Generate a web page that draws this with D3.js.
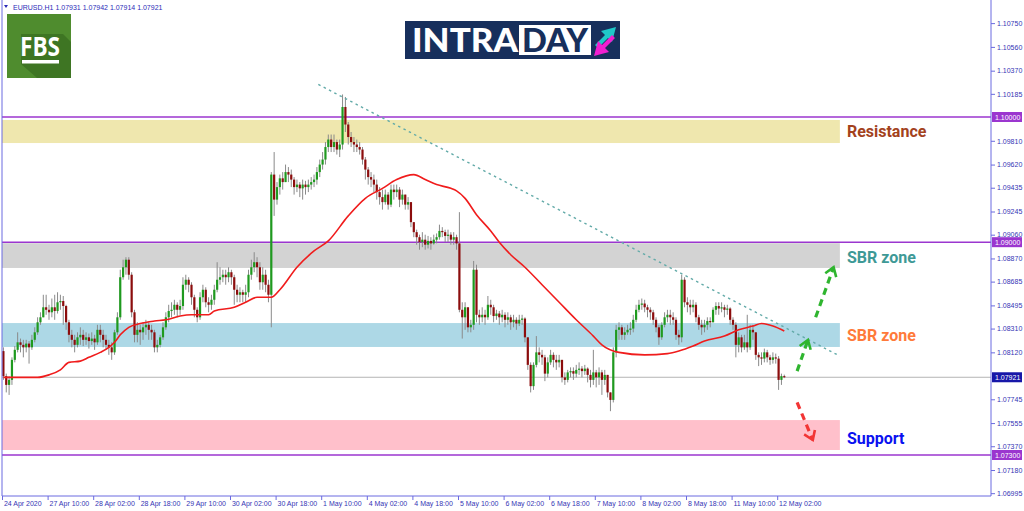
<!DOCTYPE html>
<html>
<head>
<meta charset="utf-8">
<script src="https://cdn.jsdelivr.net/npm/d3@7"></script>
<style>
  body { margin: 0; background: #fff; }
  svg { display: block; }
  .axis text { font-family: "Liberation Sans", Tahoma, sans-serif; font-size: 7px; fill: #3535b5; }
  .axis line { stroke: #6a6ae0; }
  .axis path { display: none; }
</style>
</head>
<body>
<div id="chart"></div>
<script>
// EURUSD H1, 24 Apr 2020 18:00 .. 12 May 2020 04:00 (bar index 0..274)
var firstOpen = 1.0813;
var closes = [
  1.0793,1.0786,1.0790,1.0806,1.0814,1.0820,1.0818,1.0816,1.0819,1.0816,
  1.0822,1.0828,1.0836,1.0840,1.0848,1.0846,1.0844,1.0848,1.0845,1.0852,
  1.0853,1.0849,1.0836,1.0826,1.0822,1.0818,1.0824,1.0826,1.0822,1.0824,
  1.0821,1.0823,1.0820,1.0830,1.0826,1.0822,1.0818,1.0816,1.0812,1.0828,
  1.0840,1.0872,1.0880,1.0886,1.0874,1.0844,1.0826,1.0830,1.0828,1.0832,
  1.0834,1.0830,1.0828,1.0816,1.0818,1.0824,1.0832,1.0840,1.0845,1.0846,
  1.0850,1.0846,1.0849,1.0866,1.0870,1.0866,1.0856,1.0846,1.0840,1.0856,
  1.0862,1.0852,1.0850,1.0854,1.0862,1.0870,1.0872,1.0874,1.0872,1.0876,
  1.0872,1.0862,1.0858,1.0860,1.0858,1.0860,1.0874,1.0880,1.0884,1.0880,
  1.0868,1.0874,1.0866,1.0858,1.0954,1.0934,1.0944,1.0951,1.0948,1.0956,
  1.0954,1.0950,1.0944,1.0946,1.0943,1.0946,1.0944,1.0946,1.0948,1.0950,
  1.0956,1.0962,1.0966,1.0976,1.0982,1.0976,1.0980,1.0974,1.0978,1.1008,
  1.0994,1.0984,1.0980,1.0978,1.0976,1.0974,1.0966,1.0958,1.0952,1.0950,
  1.0946,1.0940,1.0936,1.0932,1.0938,1.0930,1.0942,1.0940,1.0942,1.0934,
  1.0938,1.0930,1.0932,1.0916,1.0908,1.0904,1.0900,1.0902,1.0898,1.0901,
  1.0899,1.0902,1.0904,1.0909,1.0908,1.0905,1.0906,1.0902,1.0904,1.0899,
  1.0846,1.0840,1.0848,1.0832,1.0834,1.0878,1.0842,1.0840,1.0842,1.0840,
  1.0850,1.0848,1.0841,1.0843,1.0840,1.0842,1.0838,1.0840,1.0836,1.0838,
  1.0835,1.0838,1.0839,1.0824,1.0802,1.0785,1.0802,1.0812,1.0810,1.0808,
  1.0795,1.0804,1.0810,1.0806,1.0804,1.0806,1.0792,1.0790,1.0796,1.0797,
  1.0795,1.0798,1.0799,1.0797,1.0799,1.0794,1.0790,1.0796,1.0792,1.0796,
  1.0790,1.0794,1.0780,1.0774,1.0812,1.0830,1.0832,1.0826,1.0828,1.0830,
  1.0831,1.0838,1.0846,1.0850,1.0851,1.0848,1.0846,1.0844,1.0838,1.0832,
  1.0824,1.0834,1.0840,1.0842,1.0840,1.0838,1.0826,1.0824,1.0870,1.0852,
  1.0850,1.0848,1.0850,1.0840,1.0834,1.0832,1.0834,1.0837,1.0836,1.0846,
  1.0849,1.0847,1.0848,1.0846,1.0847,1.0838,1.0834,1.0818,1.0824,1.0816,
  1.0820,1.0816,1.0830,1.0828,1.0810,1.0808,1.0807,1.0812,1.0808,1.0806,
  1.0808,1.0807,1.0790,1.0793,1.07921
];
var highs = [
  1.0816,1.0795,1.0793,1.0808,1.0817,1.0828,1.0823,1.0822,1.0822,1.0821,
  1.0826,1.0832,1.0840,1.0844,1.0858,1.0858,1.0850,1.0855,1.0858,1.0860,
  1.0858,1.0857,1.0850,1.0838,1.0830,1.0826,1.0828,1.0832,1.0830,1.0828,
  1.0827,1.0828,1.0826,1.0834,1.0834,1.0830,1.0826,1.0822,1.0820,1.0830,
  1.0844,1.0878,1.0886,1.0888,1.0888,1.0876,1.0846,1.0836,1.0834,1.0836,
  1.0838,1.0836,1.0834,1.0830,1.0822,1.0826,1.0836,1.0844,1.0850,1.0852,
  1.0854,1.0852,1.0854,1.0872,1.0874,1.0872,1.0868,1.0858,1.0848,1.0860,
  1.0866,1.0864,1.0856,1.0858,1.0866,1.0884,1.0880,1.0878,1.0878,1.0880,
  1.0878,1.0874,1.0866,1.0864,1.0862,1.0866,1.0878,1.0886,1.0892,1.0888,
  1.0884,1.0880,1.0878,1.0870,1.0956,1.0972,1.0948,1.0954,1.0956,1.0962,
  1.0960,1.0958,1.0952,1.0950,1.0948,1.0950,1.0949,1.0950,1.0952,1.0954,
  1.0960,1.0966,1.0972,1.0980,1.0986,1.0986,1.0986,1.0982,1.0982,1.1018,
  1.1016,1.0996,1.0988,1.0984,1.0982,1.0980,1.0976,1.0968,1.0960,1.0956,
  1.0954,1.0950,1.0944,1.0942,1.0942,1.0940,1.0946,1.0946,1.0946,1.0944,
  1.0942,1.0938,1.0936,1.0932,1.0916,1.0910,1.0906,1.0908,1.0906,1.0905,
  1.0904,1.0906,1.0907,1.0914,1.0912,1.0910,1.0910,1.0908,1.0908,1.0906,
  1.0924,1.0852,1.0852,1.0846,1.0838,1.0885,1.0882,1.0846,1.0848,1.0846,
  1.0857,1.0854,1.0850,1.0846,1.0845,1.0846,1.0844,1.0844,1.0842,1.0842,
  1.0840,1.0842,1.0842,1.0840,1.0824,1.0804,1.0804,1.0825,1.0816,1.0814,
  1.0810,1.0808,1.0814,1.0812,1.0810,1.0810,1.0806,1.0796,1.0798,1.0800,
  1.0800,1.0802,1.0804,1.0801,1.0802,1.0800,1.0798,1.0814,1.0798,1.0800,
  1.0798,1.0798,1.0794,1.0780,1.0816,1.0834,1.0836,1.0834,1.0832,1.0834,
  1.0836,1.0842,1.0850,1.0854,1.0855,1.0854,1.0850,1.0848,1.0846,1.0840,
  1.0834,1.0836,1.0844,1.0846,1.0846,1.0844,1.0840,1.0830,1.0874,1.0872,
  1.0856,1.0854,1.0854,1.0852,1.0842,1.0838,1.0838,1.0840,1.0840,1.0848,
  1.0852,1.0852,1.0852,1.0850,1.0850,1.0848,1.0840,1.0836,1.0828,1.0826,
  1.0826,1.0842,1.0834,1.0834,1.0828,1.0812,1.0812,1.0815,1.0814,1.0810,
  1.0812,1.0811,1.0809,1.0795,1.07942
];
var lows = [
  1.0790,1.0780,1.0778,1.0786,1.0804,1.0812,1.0812,1.0808,1.0812,1.0803,
  1.0814,1.0820,1.0826,1.0834,1.0840,1.0842,1.0838,1.0840,1.0838,1.0843,
  1.0846,1.0834,1.0830,1.0820,1.0816,1.0812,1.0816,1.0818,1.0817,1.0818,
  1.0815,1.0818,1.0814,1.0818,1.0820,1.0816,1.0814,1.0810,1.0806,1.0810,
  1.0826,1.0838,1.0870,1.0874,1.0870,1.0840,1.0820,1.0820,1.0818,1.0822,
  1.0826,1.0822,1.0822,1.0812,1.0812,1.0816,1.0822,1.0830,1.0836,1.0840,
  1.0842,1.0840,1.0842,1.0846,1.0862,1.0860,1.0850,1.0840,1.0836,1.0838,
  1.0852,1.0848,1.0844,1.0846,1.0850,1.0860,1.0866,1.0868,1.0866,1.0868,
  1.0866,1.0850,1.0852,1.0852,1.0852,1.0852,1.0856,1.0870,1.0876,1.0872,
  1.0862,1.0862,1.0860,1.0852,1.0832,1.0921,1.0930,1.0938,1.0942,1.0948,
  1.0948,1.0944,1.0938,1.0940,1.0936,1.0934,1.0938,1.0940,1.0942,1.0944,
  1.0946,1.0952,1.0958,1.0962,1.0972,1.0972,1.0972,1.0970,1.0968,1.0974,
  1.0988,1.0978,1.0976,1.0972,1.0972,1.0970,1.0962,1.0950,1.0946,1.0944,
  1.0940,1.0934,1.0930,1.0926,1.0930,1.0926,1.0928,1.0934,1.0936,1.0928,
  1.0930,1.0926,1.0926,1.0912,1.0904,1.0898,1.0894,1.0896,1.0894,1.0895,
  1.0894,1.0898,1.0899,1.0902,1.0904,1.0900,1.0900,1.0898,1.0898,1.0894,
  1.0844,1.0823,1.0830,1.0828,1.0828,1.0830,1.0836,1.0834,1.0836,1.0834,
  1.0838,1.0842,1.0836,1.0838,1.0834,1.0836,1.0832,1.0834,1.0830,1.0832,
  1.0830,1.0833,1.0834,1.0820,1.0798,1.0780,1.0782,1.0800,1.0804,1.0802,
  1.0789,1.0792,1.0802,1.0800,1.0798,1.0800,1.0788,1.0786,1.0788,1.0792,
  1.0790,1.0792,1.0794,1.0792,1.0794,1.0788,1.0784,1.0786,1.0784,1.0786,
  1.0778,1.0786,1.0776,1.0765,1.0772,1.0808,1.0822,1.0822,1.0822,1.0826,
  1.0826,1.0828,1.0836,1.0844,1.0846,1.0844,1.0840,1.0838,1.0834,1.0828,
  1.0818,1.0822,1.0832,1.0836,1.0834,1.0834,1.0822,1.0818,1.0820,1.0848,
  1.0844,1.0842,1.0844,1.0836,1.0830,1.0826,1.0828,1.0830,1.0832,1.0836,
  1.0842,1.0842,1.0844,1.0840,1.0842,1.0834,1.0830,1.0808,1.0812,1.0812,
  1.0814,1.0812,1.0814,1.0822,1.0806,1.0801,1.0802,1.0804,1.0804,1.0802,
  1.0803,1.0803,1.0782,1.0786,1.07914
];

// moving average (bar index, price)
var maIdx   = [0,12,16,20,23,27,30,34,37,39,41,44,48,53,57,62,66,72,74,81,85,89,92,94,97,103,109,114,121,127,133,138,144,148,152,157,159,162,166,171,174,178,183,189,195,201,207,210,216,225,233,237,242,246,253,258,263,266,270,274];
var maPrice = [1.0792,1.0792,1.0794,1.0798,1.0804,1.0805,1.0808,1.0812,1.0816,1.0820,1.0826,1.0832,1.0835,1.0837,1.0838,1.0841,1.0842,1.0842,1.0845,1.0848,1.0852,1.0856,1.0856,1.0856,1.0862,1.0880,1.0893,1.0901,1.0921,1.0935,1.0943,1.0950,1.0954,1.0950,1.0946,1.0943,1.0941,1.0935,1.0922,1.0909,1.0900,1.0890,1.0880,1.0866,1.0852,1.0838,1.0825,1.0818,1.0812,1.0810,1.0811,1.0813,1.0817,1.0821,1.0825,1.0830,1.0833,1.0835,1.0833,1.0829];

// x axis
var xTickIdx = [0,16,32,48,64,80,96,112,128,144,160,176,192,208,224,240,256,272];
var xTickLabels = ["24 Apr 2020","27 Apr 10:00","28 Apr 02:00","28 Apr 18:00","29 Apr 10:00","30 Apr 02:00",
  "30 Apr 18:00","1 May 10:00","4 May 02:00","4 May 18:00","5 May 10:00","6 May 02:00","6 May 18:00",
  "7 May 10:00","8 May 02:00","8 May 18:00","11 May 10:00","12 May 02:00"];

// price axis
var yTicks = [1.10750,1.10560,1.10370,1.10185,1.09810,1.09620,1.09435,1.09245,1.09060,1.08870,1.08685,
  1.08495,1.08310,1.08120,1.07745,1.07555,1.07370,1.07180,1.06995];
var levelPrices = [1.10000, 1.09000, 1.07300];
var lastPrice = 1.07921;

// zones
var zoneNames  = ["Resistance", "SBR zone", "SBR zone", "Support"];
var zoneTop    = [1.09976, 1.08992, 1.08354, 1.07579];
var zoneBottom = [1.09792, 1.08794, 1.08163, 1.07340];
var labelPrice = [1.09888, 1.08874, 1.08251, 1.07428];
var zoneFill   = ["#efe7ae", "#d3d3d3", "#add8e6", "#ffc0cb"];
var zoneText   = ["#a3421d", "#3e9996", "#ff7a3a", "#0a10f0"];
var zoneEndIdx = 293.5;

// trend line and arrows (bar index, price)
var trendIdx = [110.5, 293.5];
var trendPrice = [1.1026, 1.0809];
var arrows = [
  {from: [278.5, 1.0797], to: [282.3, 1.0822], color: "#2fb52f"},
  {from: [285.0, 1.0840], to: [291.3, 1.0880], color: "#2fb52f"},
  {from: [278.5, 1.0772], to: [284.0, 1.0742], color: "#f23535"}
];

var W = 1024, H = 511;
var plotL = 2, plotR = 991, plotB = 496;

var svg = d3.select("#chart").append("svg")
  .attr("width", W).attr("height", H);

var x = d3.scaleLinear().domain([0, 274]).range([3.4, 3.4 + 2.85 * 274]);
var y = d3.scaleLinear().domain([1.1, 1.073]).range([117, 455]);

svg.append("clipPath").attr("id", "plot")
  .append("rect").attr("x", plotL).attr("y", 0).attr("width", plotR - plotL).attr("height", plotB);

var plot = svg.append("g").attr("clip-path", "url(#plot)");

// zones
zoneNames.forEach(function(name, i) {
  plot.append("rect")
    .attr("x", plotL)
    .attr("y", y(zoneTop[i]))
    .attr("width", x(zoneEndIdx) - plotL)
    .attr("height", y(zoneBottom[i]) - y(zoneTop[i]))
    .attr("fill", zoneFill[i]);
  svg.append("text")
    .attr("x", x(zoneEndIdx) + 7)
    .attr("y", y(labelPrice[i]))
    .attr("dominant-baseline", "central")
    .attr("font-family", "Roboto, 'Open Sans', sans-serif")
    .attr("font-weight", "bold")
    .attr("font-size", 16)
    .attr("fill", zoneText[i])
    .text(name);
});

// horizontal levels
levelPrices.forEach(function(p) {
  plot.append("line")
    .attr("x1", plotL).attr("x2", plotR)
    .attr("y1", y(p)).attr("y2", y(p))
    .attr("stroke", "#9b36cf").attr("stroke-width", 1.6);
});
plot.append("line")
  .attr("x1", plotL).attr("x2", plotR)
  .attr("y1", y(lastPrice)).attr("y2", y(lastPrice))
  .attr("stroke", "#b4b4b4").attr("stroke-width", 1);

// candles
var bars = closes.map(function(c, i) {
  var o = i === 0 ? firstOpen : closes[i - 1];
  return {i: i, o: o, c: c, h: Math.max(highs[i], o, c), l: Math.min(lows[i], o, c)};
});
var candle = plot.append("g").selectAll("g").data(bars).enter().append("g");
candle.append("line")
  .attr("x1", function(d) { return x(d.i); })
  .attr("x2", function(d) { return x(d.i); })
  .attr("y1", function(d) { return y(d.h); })
  .attr("y2", function(d) { return y(d.l); })
  .attr("stroke", "#8a8a8a").attr("stroke-width", 1);
candle.append("rect")
  .attr("x", function(d) { return x(d.i) - 1.1; })
  .attr("width", 2.2)
  .attr("y", function(d) { return y(Math.max(d.o, d.c)); })
  .attr("height", function(d) { return Math.max(1, Math.abs(y(d.o) - y(d.c))); })
  .attr("fill", function(d) { return d.c >= d.o ? "#1f9a1f" : "#8c0d0d"; });

// moving average
var maLine = d3.line()
  .x(function(d, i) { return x(maIdx[i]); })
  .y(function(d) { return y(d); })
  .curve(d3.curveMonotoneX);
plot.append("path")
  .attr("d", maLine(maPrice))
  .attr("fill", "none")
  .attr("stroke", "#f01c1c")
  .attr("stroke-width", 1.6);

// trend line
plot.append("line")
  .attr("x1", x(trendIdx[0])).attr("y1", y(trendPrice[0]))
  .attr("x2", x(trendIdx[1])).attr("y2", y(trendPrice[1]))
  .attr("stroke", "#62aaa8").attr("stroke-width", 1.4)
  .attr("stroke-dasharray", "2.5,3.5");

// dashed arrows
arrows.forEach(function(a) {
  var x1 = x(a.from[0]), y1 = y(a.from[1]), x2 = x(a.to[0]), y2 = y(a.to[1]);
  var ang = Math.atan2(y2 - y1, x2 - x1);
  svg.append("line")
    .attr("x1", x1).attr("y1", y1).attr("x2", x2).attr("y2", y2)
    .attr("stroke", a.color).attr("stroke-width", 3.2)
    .attr("stroke-dasharray", "7,5");
  var len = 9, spread = 0.6;
  var head = [
    [x2 - len * Math.cos(ang - spread), y2 - len * Math.sin(ang - spread)],
    [x2, y2],
    [x2 - len * Math.cos(ang + spread), y2 - len * Math.sin(ang + spread)]
  ];
  svg.append("path")
    .attr("d", d3.line()(head))
    .attr("fill", "none")
    .attr("stroke", a.color).attr("stroke-width", 2.6)
    .attr("stroke-linecap", "square");
});

// frame
var frameColor = "#6a6ae0";
svg.append("line").attr("x1", plotL).attr("x2", plotL).attr("y1", 0).attr("y2", plotB)
  .attr("stroke", frameColor);
svg.append("line").attr("x1", plotR).attr("x2", plotR).attr("y1", 0).attr("y2", plotB)
  .attr("stroke", frameColor);
svg.append("line").attr("x1", plotL).attr("x2", plotR).attr("y1", plotB).attr("y2", plotB)
  .attr("stroke", frameColor);

// right price axis
svg.append("g")
  .attr("class", "axis")
  .attr("transform", "translate(" + plotR + ",0)")
  .call(d3.axisRight(y).tickValues(yTicks).tickSize(4).tickPadding(2).tickFormat(d3.format(".5f")));

// highlighted price labels
function priceTag(p, fill) {
  svg.append("rect")
    .attr("x", plotR + 1).attr("y", y(p) - 5)
    .attr("width", 30).attr("height", 10)
    .attr("fill", fill);
  svg.append("text")
    .attr("x", plotR + 4).attr("y", y(p))
    .attr("dominant-baseline", "central")
    .attr("font-family", "'Liberation Sans', Tahoma, sans-serif")
    .attr("font-size", 7).attr("fill", "#fff")
    .text(d3.format(".5f")(p));
}
levelPrices.forEach(function(p) { priceTag(p, "#9b36cf"); });
priceTag(lastPrice, "#1717a8");

// bottom time axis
var xAxis = svg.append("g")
  .attr("class", "axis")
  .attr("transform", "translate(0," + plotB + ")")
  .call(d3.axisBottom(x).tickValues(xTickIdx).tickSize(4)
    .tickFormat(function(d, i) { return xTickLabels[i]; }));
xAxis.selectAll(".tick line").attr("transform", "translate(-1.4,0)");
xAxis.selectAll(".tick text")
  .attr("text-anchor", "start")
  .attr("x", 0)
  .attr("dy", "0.45em");

// header
svg.append("path").attr("d", "M4,5 L8,5 L6,8 Z").attr("fill", "#2b2bb8");
svg.append("text")
  .attr("x", 13).attr("y", 10)
  .attr("font-family", "'Liberation Sans', Tahoma, sans-serif")
  .attr("font-size", 7).attr("fill", "#2b2bb8")
  .text("EURUSD.H1  1.07931 1.07942 1.07914 1.07921");

// FBS logo
var fbs = svg.append("g").attr("transform", "translate(7,14)");
fbs.append("rect").attr("width", 64).attr("height", 64).attr("fill", "#4f8c2e");
fbs.append("path").attr("d", "M14,20 L56,20 L64,28 L64,64 L30,64 L14,50 Z").attr("fill", "#3a6f20").attr("opacity", 0.8);
fbs.append("text")
  .attr("x", 33).attr("y", 42)
  .attr("text-anchor", "middle")
  .attr("font-family", "'Open Sans', Roboto, sans-serif")
  .attr("font-weight", "bold")
  .attr("font-size", 27)
  .attr("textLength", 40).attr("lengthAdjust", "spacingAndGlyphs")
  .attr("fill", "#fff")
  .text("FBS");
fbs.append("rect").attr("x", 15).attr("y", 46).attr("width", 37).attr("height", 3.5).attr("fill", "#fff");

// INTRADAY logo
var intra = svg.append("g").attr("transform", "translate(405,21)");
intra.append("rect").attr("width", 215).attr("height", 38).attr("fill", "#172f5c");
intra.append("text")
  .attr("x", 7).attr("y", 31)
  .attr("font-family", "Lato, 'Open Sans', sans-serif")
  .attr("font-weight", 900)
  .attr("font-size", 32)
  .attr("textLength", 106).attr("lengthAdjust", "spacingAndGlyphs")
  .attr("fill", "#fff")
  .text("INTRA");
intra.append("rect").attr("x", 114).attr("y", 4).attr("width", 72).attr("height", 30).attr("fill", "#fff");
intra.append("text")
  .attr("x", 117).attr("y", 31)
  .attr("font-family", "Lato, 'Open Sans', sans-serif")
  .attr("font-weight", 900)
  .attr("font-size", 32)
  .attr("textLength", 66).attr("lengthAdjust", "spacingAndGlyphs")
  .attr("fill", "#172f5c")
  .text("DAY");
intra.append("path").attr("d", "M190,24 L200,14 L196,10 L211,6 L207,21 L203,17 L193,27 Z").attr("fill", "#1fc8c8");
intra.append("path").attr("d", "M210,17 L200,27 L204,31 L189,35 L193,20 L197,24 L207,14 Z").attr("fill", "#f01fd0");
</script>
</body>
</html>
